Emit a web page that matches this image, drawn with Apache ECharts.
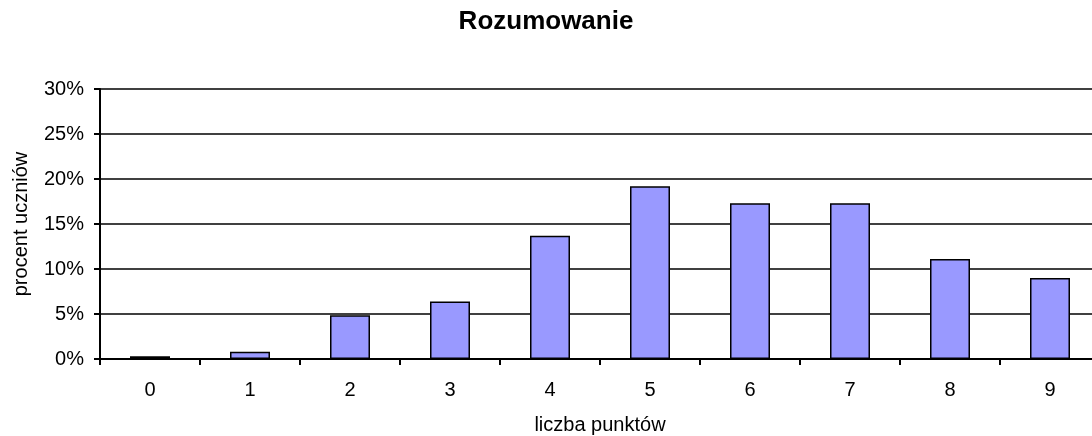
<!DOCTYPE html>
<html>
<head>
<meta charset="utf-8">
<title>Rozumowanie</title>
<script src="https://cdn.jsdelivr.net/npm/echarts@6/dist/echarts.min.js"></script>
<style>
  html, body { margin: 0; padding: 0; background: #fff; }
  #chart { width: 1092px; height: 436px; }
</style>
</head>
<body>
<div id="chart"></div>
<script>
// liczba punktów (categories)
const points = ['0', '1', '2', '3', '4', '5', '6', '7', '8', '9'];
// procent uczniów
const percents = [0.3, 0.8, 4.85, 6.4, 13.7, 19.2, 17.3, 17.3, 11.1, 9.0];

const chart = echarts.init(document.getElementById('chart'));

const font = 'Liberation Sans, Arial, sans-serif';

const option = {
  animation: false,
  backgroundColor: '#fff',
  title: {
    text: 'Rozumowanie',
    left: 'center',
    top: 4,
    textStyle: { fontFamily: font, fontSize: 26, fontWeight: 'bold', color: '#000' }
  },
  grid: {
    left: 100,
    top: 89,
    width: 1000,
    bottom: 77,
    containLabel: false,
    outerBoundsMode: 'none'
  },
  xAxis: {
    type: 'category',
    data: points,
    name: 'liczba punktów',
    nameLocation: 'middle',
    nameGap: 56,
    nameTextStyle: { fontFamily: font, fontSize: 20, color: '#000' },
    axisLine: { lineStyle: { color: '#000', width: 2 } },
    axisTick: { show: true, alignWithLabel: false, length: 6, lineStyle: { color: '#000', width: 2 } },
    axisLabel: { fontFamily: font, fontSize: 20, color: '#000', margin: 21 }
  },
  yAxis: {
    type: 'value',
    min: 0,
    max: 30,
    interval: 5,
    name: 'procent uczniów',
    nameLocation: 'middle',
    nameGap: 69,
    nameTextStyle: { fontFamily: font, fontSize: 20, color: '#000' },
    axisLine: { show: true, lineStyle: { color: '#000', width: 2 } },
    axisTick: { show: true, length: 6, lineStyle: { color: '#000', width: 2 } },
    axisLabel: {
      fontFamily: font, fontSize: 20, color: '#000', margin: 16,
      formatter: v => v + '%'
    },
    splitLine: { show: true, lineStyle: { color: '#000', width: 1.5 } }
  },
  series: [{
    type: 'bar',
    data: percents,
    barWidth: '40%',
    itemStyle: { color: '#9999ff', borderColor: '#000', borderWidth: 1.5 }
  }]
};

chart.setOption(option);
</script>
</body>
</html>
